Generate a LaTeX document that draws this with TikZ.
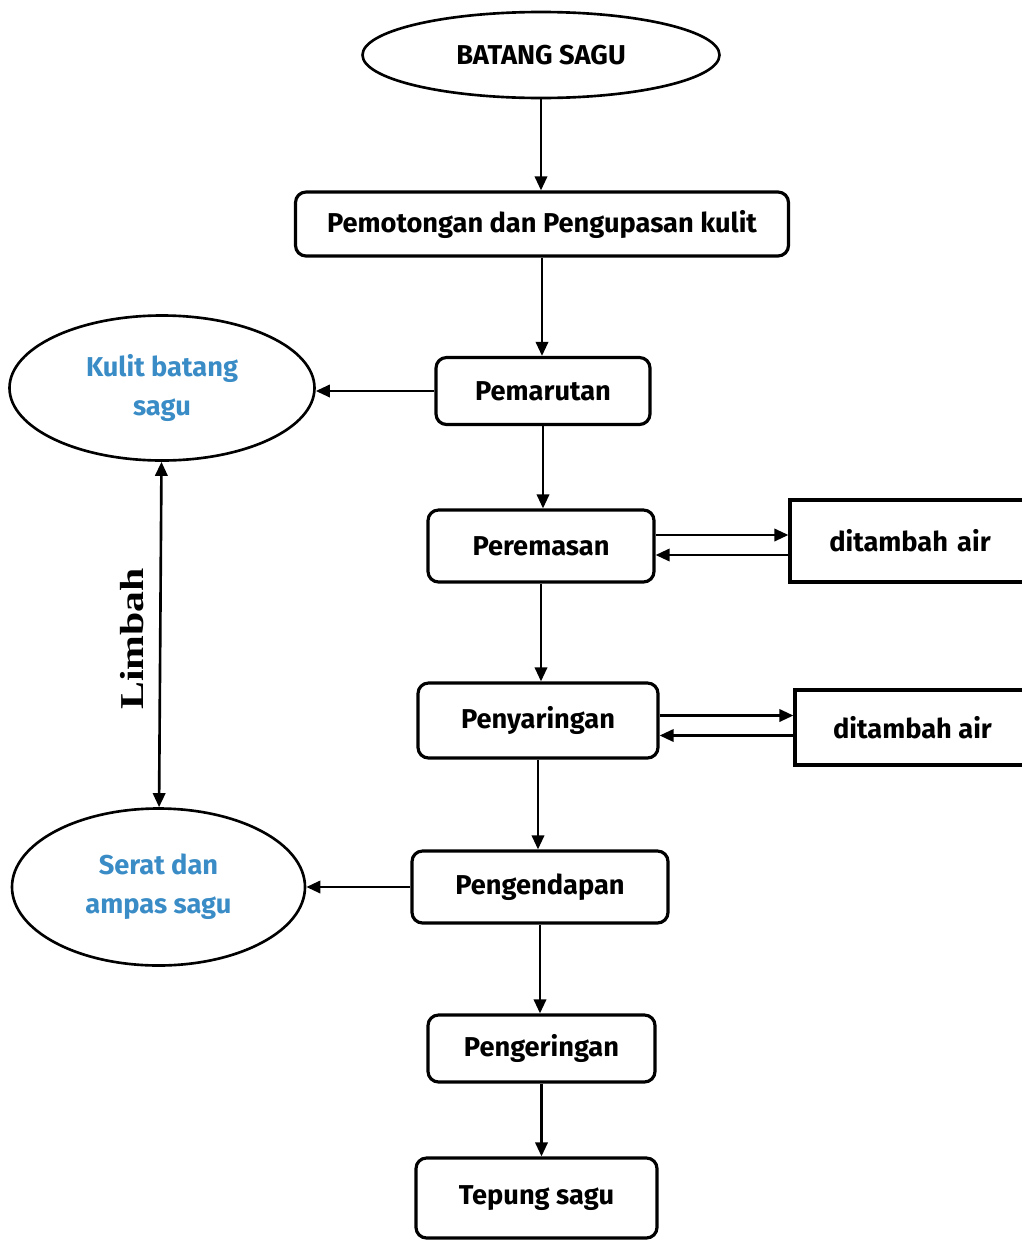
\documentclass[tikz,border=0pt]{standalone}
\usepackage{fontspec}
\setmainfont{Fira Sans}
\newfontfamily\limbahfont{Liberation Serif}
\usepackage{xcolor}
\usepackage{graphicx}
\usetikzlibrary{shapes.geometric,arrows.meta}
\definecolor{sblue}{HTML}{3A8CC6}
\tikzset{
  proc/.style={draw, line width=1.8pt, rounded corners=6pt, align=center,
               font=\fontsize{15.5}{22}\selectfont\bfseries, inner sep=2pt},
  addbox/.style={draw, line width=1.8pt, align=center,
               font=\fontsize{15.5}{22}\selectfont\bfseries, inner sep=2pt},
  oval/.style={draw, ellipse, line width=1.5pt, align=center, inner sep=0pt,
               font=\fontsize{15.5}{22}\selectfont\bfseries},
  waste/.style={oval, text=sblue},
  arr/.style={->, line width=1.5pt},
}

\begin{document}
\begin{tikzpicture}[>={Triangle[length=8pt,width=7pt]}]
  \clip (0,0) rectangle (20.44,-24.82);

  % --- main line -------------------------------------------------------
  \node[oval, minimum width=7.14cm, minimum height=1.72cm] (batang) at (10.82,-1.10) {BATANG SAGU};
  \node[proc, minimum width=9.86cm, minimum height=1.28cm] (potong) at (10.84,-4.48) {Pemotongan dan Pengupasan kulit};
  \node[proc, minimum width=4.28cm, minimum height=1.34cm] (parut)  at (10.86,-7.82) {Pemarutan};
  \node[proc, minimum width=4.52cm, minimum height=1.44cm] (remas)  at (10.82,-10.92) {Peremasan};
  \node[proc, minimum width=4.80cm, minimum height=1.50cm] (saring) at (10.76,-14.41) {Penyaringan};
  \node[proc, minimum width=5.12cm, minimum height=1.44cm] (endap)  at (10.80,-17.74) {Pengendapan};
  \node[proc, minimum width=4.54cm, minimum height=1.34cm] (kering) at (10.83,-20.97) {Pengeringan};
  \node[proc, minimum width=4.82cm, minimum height=1.60cm] (tepung) at (10.73,-23.96) {Tepung sagu};

  % --- water added -----------------------------------------------------
  \node[addbox, minimum width=4.8cm, minimum height=1.64cm, text width=4.6cm] (air1) at (18.20,-10.82) {ditambah air\\[-2pt]};
  \node[addbox, minimum width=4.7cm, minimum height=1.50cm] (air2) at (18.25,-14.55) {ditambah air};

  % --- waste -----------------------------------------------------------
  \node[waste, minimum width=6.10cm, minimum height=2.90cm] (kulit) at (3.24,-7.76) {Kulit batang\\sagu};
  \node[waste, minimum width=5.86cm, minimum height=3.14cm] (serat) at (3.17,-17.74) {Serat dan\\ampas sagu};

  % --- connectors ------------------------------------------------------
  \foreach \a/\b in {batang/potong, potong/parut, parut/remas, remas/saring,
                     saring/endap, endap/kering, kering/tepung}
    \draw[arr] (\a.south) -- (\a.south |- \b.north);

  \draw[arr] ([yshift=0.22cm]remas.east) -- ([yshift=0.22cm]remas.east -| air1.west);
  \draw[arr] ([yshift=-0.18cm]remas.east -| air1.west) -- ([yshift=-0.18cm]remas.east);
  \draw[arr] ([yshift=0.10cm]saring.east) -- ([yshift=0.10cm]saring.east -| air2.west);
  \draw[arr] ([yshift=-0.30cm]saring.east -| air2.west) -- ([yshift=-0.30cm]saring.east);

  \draw[arr] (parut.west) -- (parut.west -| kulit.east);
  \draw[arr] (endap) -- (serat);
  \draw[<->, line width=1.5pt] (kulit) -- (serat);
  \node[rotate=90, font=\limbahfont\fontsize{19}{22}\selectfont\bfseries] (limbah) at (2.64,-12.78) {\scalebox{1.25}[1]{Limbah}};
\end{tikzpicture}
\end{document}
